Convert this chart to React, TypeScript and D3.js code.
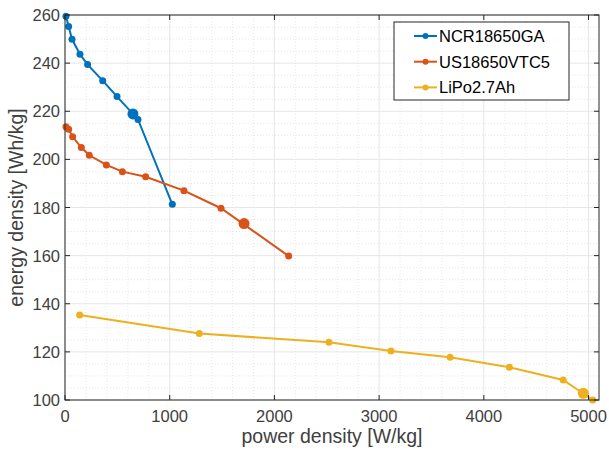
import React from "react";
import * as d3 from "d3";

// power density [W/kg] and energy density [Wh/kg]
const ncrPower = [9, 35, 67, 143, 216, 360, 497, 697, 1025];
const ncrEnergy = [259.5, 255.2, 249.9, 243.7, 239.4, 232.7, 226.1, 216.6, 181.3];
const vtcPower = [9, 35, 73, 156, 232, 395, 548, 770, 1136, 1490, 2136];
const vtcEnergy = [213.6, 212.5, 209.4, 204.9, 201.7, 197.7, 194.9, 192.8, 187.0, 179.7, 159.8];
const lipoPower = [140, 1283, 2521, 3113, 3678, 4244, 4758, 5040];
const lipoEnergy = [135.3, 127.6, 124.0, 120.4, 117.8, 113.6, 108.3, 100.0];

// the big markers (operating points)
const markPower = [649, 1710, 4950];
const markEnergy = [218.9, 173.3, 102.8];

const seriesNames = ["NCR18650GA", "US18650VTC5", "LiPo2.7Ah"];
const colors = ["#0072BD", "#D95319", "#EDB120"];

const xTicks = [0, 1000, 2000, 3000, 4000, 5000];
const yTicks = [100, 120, 140, 160, 180, 200, 220, 240, 260];

const W = 609;
const H = 450;
const margin = { top: 15, right: 10, bottom: 50, left: 65 };
const font = "'Liberation Sans', Arial, Helvetica, sans-serif";
const axisColor = "#262626";

const App = () => {
  const x = d3.scaleLinear().domain([0, 5100]).range([margin.left, W - margin.right]);
  const y = d3.scaleLinear().domain([100, 260]).range([H - margin.bottom, margin.top]);
  const [x0, x1] = x.range();
  const [y0, y1] = y.range();

  const series = [
    ncrPower.map((p, i) => [p, ncrEnergy[i]]),
    vtcPower.map((p, i) => [p, vtcEnergy[i]]),
    lipoPower.map((p, i) => [p, lipoEnergy[i]]),
  ];

  const line = d3
    .line<number[]>()
    .x((d) => x(d[0]))
    .y((d) => y(d[1]));

  const minorX = d3.range(0, 5101, 200).filter((v) => v % 1000 !== 0);
  const minorY = d3.range(100, 261, 5).filter((v) => v % 20 !== 0);

  // legend
  const lg = { x: 394, y: 22, w: 175, h: 78, row: 25.7 };

  return (
    <div style={{ position: "absolute", left: 0, top: 0 }}>
      <svg width={W} height={H} style={{ display: "block", background: "#fff" }}>
        {/* minor grid */}
        {minorX.map((v) => (
          <line key={"mx" + v} x1={x(v)} x2={x(v)} y1={y1} y2={y0} stroke="#dedede" strokeWidth={0.7} strokeDasharray="1,2" />
        ))}
        {minorY.map((v) => (
          <line key={"my" + v} x1={x0} x2={x1} y1={y(v)} y2={y(v)} stroke="#dedede" strokeWidth={0.7} strokeDasharray="1,2" />
        ))}
        {/* major grid */}
        {xTicks.map((v) => (
          <line key={"gx" + v} x1={x(v)} x2={x(v)} y1={y1} y2={y0} stroke="#e6e6e6" strokeWidth={1} />
        ))}
        {yTicks.map((v) => (
          <line key={"gy" + v} x1={x0} x2={x1} y1={y(v)} y2={y(v)} stroke="#e6e6e6" strokeWidth={1} />
        ))}

        {/* data */}
        {series.map((s, i) => (
          <g key={"s" + i}>
            <path d={line(s) || ""} fill="none" stroke={colors[i]} strokeWidth={2} />
            {s.map((d, j) => (
              <circle key={j} cx={x(d[0])} cy={y(d[1])} r={3.5} fill={colors[i]} />
            ))}
          </g>
        ))}
        {markPower.map((p, i) => (
          <circle key={"m" + i} cx={x(p)} cy={y(markEnergy[i])} r={5.5} fill={colors[i]} />
        ))}

        {/* box and ticks */}
        <rect x={x0} y={y1} width={x1 - x0} height={y0 - y1} fill="none" stroke={axisColor} strokeWidth={1} />
        {xTicks.map((v) => (
          <g key={"tx" + v}>
            <line x1={x(v)} x2={x(v)} y1={y0} y2={y0 - 5} stroke={axisColor} />
            <line x1={x(v)} x2={x(v)} y1={y1} y2={y1 + 5} stroke={axisColor} />
            <text x={x(v)} y={y0 + 22} textAnchor="middle" fontSize={16.5} fontFamily={font} fill="#404040">
              {v}
            </text>
          </g>
        ))}
        {yTicks.map((v) => (
          <g key={"ty" + v}>
            <line x1={x0} x2={x0 + 5} y1={y(v)} y2={y(v)} stroke={axisColor} />
            <line x1={x1} x2={x1 - 5} y1={y(v)} y2={y(v)} stroke={axisColor} />
            <text x={x0 - 5} y={y(v) + 6} textAnchor="end" fontSize={16.5} fontFamily={font} fill="#404040">
              {v}
            </text>
          </g>
        ))}

        {/* axis labels */}
        <text x={(x0 + x1) / 2} y={443} textAnchor="middle" fontSize={19.5} fontFamily={font} fill="#404040">
          power density [W/kg]
        </text>
        <text
          transform={`translate(23,${(y0 + y1) / 2}) rotate(-90)`}
          textAnchor="middle"
          fontSize={19.5}
          fontFamily={font}
          fill="#404040"
        >
          energy density [Wh/kg]
        </text>

        {/* legend */}
        <rect x={lg.x} y={lg.y} width={lg.w} height={lg.h} fill="#fff" stroke={axisColor} strokeWidth={1} />
        {seriesNames.map((name, i) => {
          const ry = lg.y + 14 + i * lg.row;
          return (
            <g key={name}>
              <line x1={lg.x + 20} x2={lg.x + 43} y1={ry} y2={ry} stroke={colors[i]} strokeWidth={2} />
              <circle cx={lg.x + 31.5} cy={ry} r={3} fill={colors[i]} />
              <text x={lg.x + 45} y={ry + 6} fontSize={16.5} fontFamily={font} fill="#000">
                {name}
              </text>
            </g>
          );
        })}
      </svg>
    </div>
  );
};

export default App;
